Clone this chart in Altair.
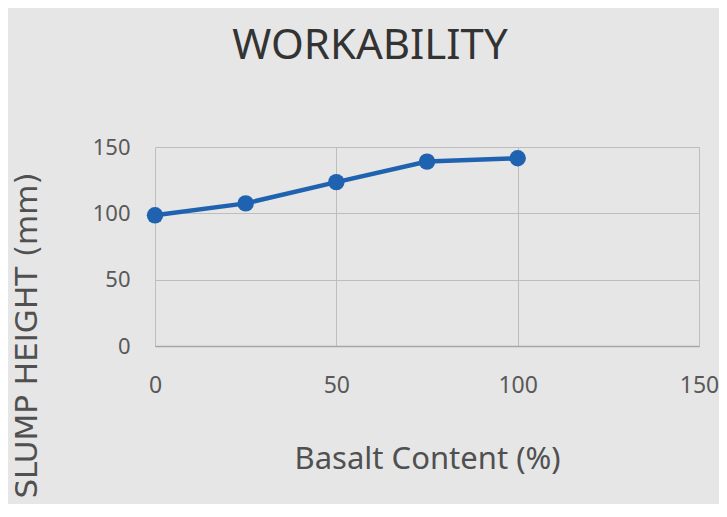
import altair as alt
import pandas as pd

basalt = [0, 25, 50, 75, 100]
slump = [98.5, 107.5, 123.5, 139, 141.5]
x_ticks = [0, 50, 100, 150]
y_ticks = [0, 50, 100, 150]

df = pd.DataFrame({"basalt": basalt, "slump": slump})

FONT = "Noto Sans"
BLUE = "#1f63b0"

x = alt.X("basalt:Q", scale=alt.Scale(domain=[0, 150], nice=False),
          axis=alt.Axis(values=x_ticks, title="Basalt Content (%)", ticks=False,
                        labelFlush=False, labelOverlap=False,
                        labelPadding=28, titlePadding=47, labelFontSize=23,
                        titleFontSize=31, labelColor="#595959", titleColor="#505050",
                        labelFont=FONT, titleFont=FONT, titleFontWeight="normal",
                        gridColor="#bdbdbd", domainColor="#a6a6a6", domainWidth=1.5))
y = alt.Y("slump:Q", scale=alt.Scale(domain=[0, 150], nice=False),
          axis=alt.Axis(values=y_ticks, title="SLUMP HEIGHT (mm)", ticks=False,
                        labelPadding=25, labelFontSize=22, titleFontSize=31,
                        labelColor="#595959", titleColor="#505050",
                        labelFont=FONT, titleFont="DejaVu Sans", titleFontWeight="normal",
                        titleAngle=270, titleX=-128, titleY=188, titleAlign="center",
                        titleBaseline="middle",
                        gridColor="#bdbdbd", domain=False))

line = alt.Chart(df).mark_line(color=BLUE, strokeWidth=4.5).encode(x=x, y=y)
pts = alt.Chart(df).mark_point(filled=True, color=BLUE, size=270, opacity=1, shape="circle").encode(x=x, y=y)

chart = (line + pts).properties(
    width=544, height=199,
    autosize=alt.AutoSizeParams(type="none"),
    padding={"left": 147, "top": 139, "right": 20, "bottom": 158},
    background="#e6e6e6",
    title=alt.TitleParams("WORKABILITY", fontSize=42, font="Noto Sans", fontWeight="normal",
                          color="#333333", anchor="middle", baseline="bottom",
                          offset=26, dx=-57),
).configure_view(stroke=None)

chart.save("out.html", embed_options={"renderer": "svg", "actions": False})
